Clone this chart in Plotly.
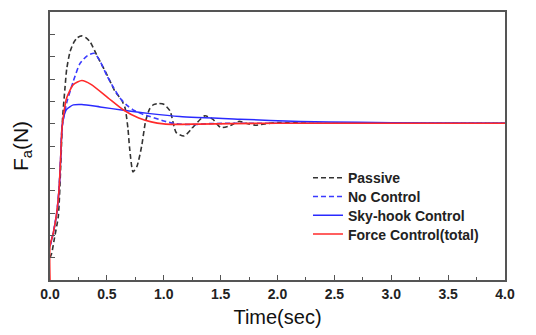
import plotly.graph_objects as go

# ---- data ----
t_passive = [0.0, 0.015, 0.04, 0.073, 0.095, 0.11, 0.13, 0.147, 0.175, 0.205, 0.24, 0.28, 0.315, 0.352, 0.41, 0.5, 0.57,
             0.63, 0.66, 0.685, 0.70, 0.73, 0.765, 0.806, 0.84, 0.875, 0.91, 0.95, 1.0, 1.055, 1.11, 1.18, 1.25,
             1.36, 1.43, 1.5, 1.58, 1.66, 1.74, 1.81, 1.9, 2.0, 2.3, 3.0, 4.0]
v_passive = [1.0, 1.2, 1.9, 2.85, 5.2, 7.2, 8.5, 9.45, 10.2, 10.6, 10.85, 10.93, 10.85, 10.67, 10.08, 9.2, 8.46,
             8.05, 7.7, 6.8, 5.9, 4.84, 5.1, 6.0, 7.1, 7.65, 7.85, 7.9, 7.87, 7.57, 6.6, 6.45, 6.8,
             7.35, 7.2, 6.83, 6.9, 7.1, 7.0, 6.93, 7.0, 7.05, 7.02, 7.02, 7.02]

t_nocontrol = [0.0, 0.029, 0.059, 0.079, 0.094, 0.105, 0.125, 0.15, 0.205, 0.264, 0.33, 0.39, 0.44, 0.5, 0.56, 0.615,
               0.67, 0.73, 0.8, 0.88, 1.0, 1.1, 1.25, 1.4, 1.6, 2.0, 4.0]
v_nocontrol = [1.52, 2.11, 3.0, 4.03, 5.5, 6.8, 7.4, 8.0, 8.9, 9.7, 10.05, 10.15, 9.8, 9.15, 8.6, 8.15,
               7.85, 7.62, 7.45, 7.32, 7.12, 7.0, 6.96, 7.0, 7.02, 7.02, 7.02]

t_skyhook = [0.0, 0.029, 0.059, 0.079, 0.094, 0.105, 0.12, 0.147, 0.205, 0.28, 0.44, 0.645, 0.88, 1.14, 1.67,
             2.2, 2.7, 3.3, 4.0]
v_skyhook = [1.52, 2.11, 3.0, 4.03, 5.5, 6.76, 7.3, 7.65, 7.84, 7.86, 7.75, 7.6, 7.45, 7.32, 7.2,
             7.1, 7.06, 7.03, 7.02]

t_force = [0.0, 0.0, 0.029, 0.059, 0.079, 0.094, 0.105, 0.125, 0.147, 0.205, 0.28, 0.36, 0.51, 0.65, 0.78, 0.89,
           1.0, 1.09, 1.3, 1.6, 2.0, 4.0]
v_force = [0.0, 1.52, 2.11, 3.0, 4.03, 5.5, 6.76, 7.6, 8.16, 8.75, 8.93, 8.76, 8.16, 7.6, 7.25, 7.08,
           6.99, 6.97, 6.98, 7.0, 7.02, 7.02]

x_ticks = [0.0, 0.5, 1.0, 1.5, 2.0, 2.5, 3.0, 3.5, 4.0]
x_ticklabels = ["0.0", "0.5", "1.0", "1.5", "2.0", "2.5", "3.0", "3.5", "4.0"]

FONT = "Liberation Sans, Arial, sans-serif"
LEG_FONT = dict(family=FONT, size=14, color="#222222", weight="bold")

fig = go.Figure()
fig.add_trace(go.Scatter(x=t_passive, y=v_passive, mode="lines", name="Passive", legend="legend",
                         line=dict(color="#333333", width=1.6, dash="5px,3px", shape="spline", smoothing=0.6)))
fig.add_trace(go.Scatter(x=t_nocontrol, y=v_nocontrol, mode="lines", name="No Control", legend="legend2",
                         line=dict(color="#3a3aff", width=1.6, dash="5px,3px", shape="spline", smoothing=0.6)))
fig.add_trace(go.Scatter(x=t_skyhook, y=v_skyhook, mode="lines", name="Sky-hook Control", legend="legend3",
                         line=dict(color="#2a2aff", width=1.5, shape="spline", smoothing=0.6)))
fig.add_trace(go.Scatter(x=t_force, y=v_force, mode="lines", name="Force Control(total)", legend="legend4",
                         line=dict(color="#ff2a2a", width=1.6, shape="spline", smoothing=0.6)))

def leg(y):
    return dict(x=0.567, y=y, xanchor="left", yanchor="middle", bgcolor="rgba(0,0,0,0)", font=LEG_FONT)

fig.update_layout(
    width=536, height=335,
    margin=dict(l=50, r=31, t=10, b=54),
    paper_bgcolor="white", plot_bgcolor="white",
    font=dict(family=FONT, color="#222222"),
    showlegend=True,
    legend=leg(0.380), legend2=leg(0.310), legend3=leg(0.240), legend4=leg(0.170),
    xaxis=dict(range=[0, 4], tickmode="array", tickvals=x_ticks, ticktext=x_ticklabels,
               ticks="inside", ticklen=5, tickwidth=1.2, tickcolor="#555555",
               minor=dict(dtick=0.25, ticks="inside", ticklen=3, tickcolor="#555555"),
               showline=True, linecolor="#555555", linewidth=1.5, mirror=True,
               showgrid=False, zeroline=False,
               tickfont=dict(family=FONT, size=14, color="#222222", weight="bold"),
               title=dict(text="Time(sec)", font=dict(family=FONT, size=20, color="#111111"), standoff=9)),
    yaxis=dict(range=[0, 12], dtick=1, ticks="inside", ticklen=5, tickwidth=1.2, tickcolor="#555555",
               showticklabels=False,
               showline=True, linecolor="#555555", linewidth=1.5, mirror=True,
               showgrid=False, zeroline=False,
               title=dict(text="F<sub>a</sub>(N)", font=dict(family=FONT, size=21, color="#111111"), standoff=14)),
)

fig.write_html("out.html")
